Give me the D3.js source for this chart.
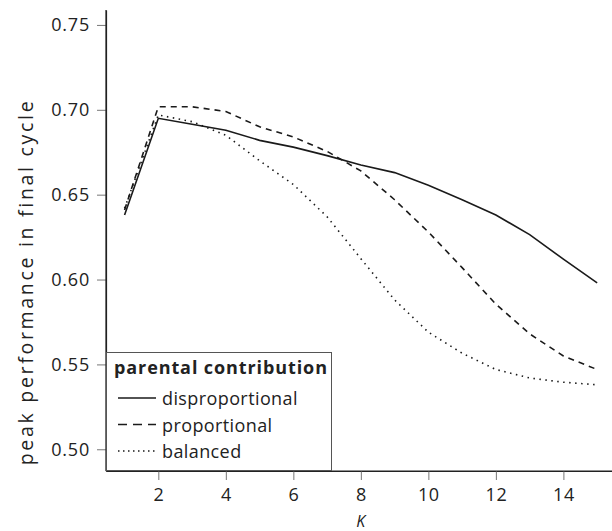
<!DOCTYPE html>
<html>
<head>
<meta charset="utf-8">
<script src="https://cdn.jsdelivr.net/npm/d3@7"></script>
<style>
  body { margin: 0; background: #fff; }
  text { font-family: "Open Sans", "DejaVu Sans", sans-serif; fill: #222; }
</style>
</head>
<body>
<svg id="chart" width="612" height="531"></svg>
<script>
// K values and peak performance per scheme
var K = [1, 2, 3, 4, 5, 6, 7, 8, 9, 10, 11, 12, 13, 14, 15];
var disproportional = [0.638, 0.695, 0.6915, 0.688, 0.682, 0.678, 0.673, 0.6675, 0.663, 0.6555, 0.647, 0.638, 0.6265, 0.612, 0.598];
var proportional = [0.641, 0.7018, 0.7018, 0.699, 0.690, 0.684, 0.6755, 0.664, 0.647, 0.628, 0.607, 0.5855, 0.568, 0.555, 0.547];
var balanced = [0.642, 0.697, 0.693, 0.685, 0.670, 0.656, 0.637, 0.6123, 0.588, 0.569, 0.5566, 0.547, 0.542, 0.5395, 0.538];
var yTicks = [0.50, 0.55, 0.60, 0.65, 0.70, 0.75];
var xTicks = [2, 4, 6, 8, 10, 12, 14];

var series = [
  { name: "disproportional", values: disproportional, dash: null, key: null },
  { name: "proportional", values: proportional, dash: "6,5", key: "9,6" },
  { name: "balanced", values: balanced, dash: "1.5,4.5", key: "1.5,3.5" }
];

var margin = { top: 10, left: 106 };
var width = 506, height = 461;

var svg = d3.select("#chart");
var g = svg.append("g").attr("transform", "translate(" + margin.left + "," + margin.top + ")");

var x = d3.scaleLinear().domain([0.45, 15.44]).range([0, width]);
var y = d3.scaleLinear().domain([0.4872, 0.7588]).range([height, 0]);

// y axis
var yAxis = g.append("g")
  .call(d3.axisLeft(y).tickValues(yTicks).tickFormat(d3.format(".2f")).tickSize(9).tickSizeOuter(0).tickPadding(7));
yAxis.selectAll(".tick line").attr("stroke", "#777");
yAxis.select(".domain").attr("stroke", "#222").attr("stroke-width", 1.2);
yAxis.selectAll(".tick text")
  .style("font-size", "18px").style("letter-spacing", "0.8px").attr("fill", "#333");

// x axis
var xAxis = g.append("g")
  .attr("transform", "translate(0," + height + ")")
  .call(d3.axisBottom(x).tickValues(xTicks).tickSize(9).tickSizeOuter(0).tickPadding(8));
xAxis.selectAll(".tick line").attr("stroke", "#777");
xAxis.select(".domain").attr("stroke", "#222").attr("stroke-width", 1.2);
xAxis.selectAll(".tick text")
  .style("font-size", "18px").style("letter-spacing", "0.5px").attr("fill", "#333");

// axis titles
svg.append("text")
  .attr("transform", "translate(33,282) rotate(-90)")
  .attr("text-anchor", "middle")
  .style("font-size", "19.5px")
  .style("letter-spacing", "2.7px")
  .attr("fill", "#333")
  .text("peak performance in final cycle");

svg.append("text")
  .attr("x", margin.left + x(8))
  .attr("y", 527)
  .attr("text-anchor", "middle")
  .style("font-size", "16px")
  .style("font-style", "italic")
  .attr("fill", "#333")
  .text("K");

// lines
var line = d3.line()
  .x(function (d, i) { return x(K[i]); })
  .y(function (d) { return y(d); });

g.selectAll("path.series")
  .data(series)
  .enter()
  .append("path")
  .attr("class", "series")
  .attr("d", function (d) { return line(d.values); })
  .attr("fill", "none")
  .attr("stroke", "#1a1a1a")
  .attr("stroke-width", 1.6)
  .attr("stroke-dasharray", function (d) { return d.dash; });

// legend
var legend = svg.append("g");
legend.append("rect")
  .attr("x", 106.5)
  .attr("y", 352.5)
  .attr("width", 225)
  .attr("height", 118)
  .attr("fill", "#fff")
  .attr("stroke", "#555")
  .attr("stroke-width", 1);

legend.append("text")
  .attr("x", 114)
  .attr("y", 374)
  .style("font-size", "18px")
  .style("font-weight", "bold")
  .style("letter-spacing", "0.9px")
  .text("parental contribution");

var items = legend.selectAll("g.item")
  .data(series)
  .enter()
  .append("g")
  .attr("class", "item")
  .attr("transform", function (d, i) { return "translate(0," + (405 + i * 26.5) + ")"; });

items.append("line")
  .attr("x1", 118)
  .attr("x2", 156)
  .attr("y1", -7)
  .attr("y2", -7)
  .attr("stroke", "#1a1a1a")
  .attr("stroke-width", 1.6)
  .attr("stroke-dasharray", function (d) { return d.key; });

items.append("text")
  .attr("x", 162)
  .attr("y", 0)
  .style("font-size", "18px")
  .style("letter-spacing", "0.4px")
  .attr("fill", "#333")
  .text(function (d) { return d.name; });

// redraw left and bottom axis lines over the legend box
g.append("line").attr("x1", 0).attr("x2", 0).attr("y1", 0).attr("y2", height).attr("stroke", "#222").attr("stroke-width", 1.2);
g.append("line").attr("x1", 0).attr("x2", width).attr("y1", height).attr("y2", height).attr("stroke", "#222").attr("stroke-width", 1.2);
</script>
</body>
</html>
